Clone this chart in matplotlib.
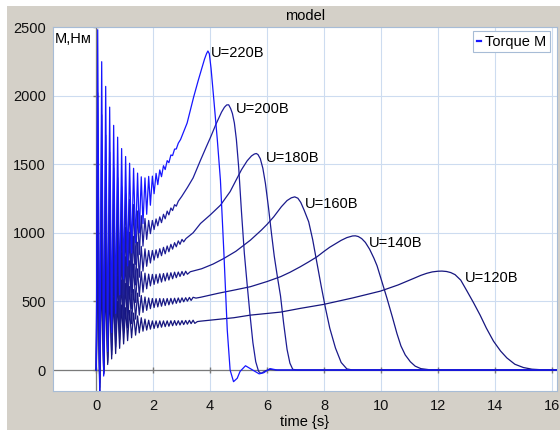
import matplotlib.pyplot as plt
from matplotlib.patches import Rectangle

plt.rcParams['font.family'] = ['Liberation Sans', 'DejaVu Sans']

# instants (s) of the start-up oscillation extrema, shared by every curve
osc_t = [0.05, 0.12, 0.19, 0.26, 0.33, 0.40, 0.47, 0.54, 0.61, 0.68, 0.75, 0.82,
         0.89, 0.96, 1.03, 1.10, 1.17, 1.24, 1.31, 1.38, 1.45, 1.51, 1.58, 1.64,
         1.71, 1.77, 1.84, 1.90, 1.97, 2.03, 2.10, 2.16, 2.23, 2.29, 2.36, 2.42,
         2.49, 2.55, 2.62, 2.68, 2.75, 2.81, 2.88, 2.94, 3.01, 3.07, 3.14, 3.20,
         3.27, 3.33, 3.40, 3.46]

# torque at those extrema (N*m), one list per supply voltage
osc_220 = [2480, -237, 2247, -44, 2067, 135, 1916, 273, 1783, 413, 1697, 548, 1614,
           663, 1556, 759, 1507, 853, 1470, 928, 1435, 1000, 1408, 1067, 1400, 1135,
           1411, 1201, 1413, 1285, 1433, 1351, 1458, 1409, 1489, 1461, 1526, 1511,
           1567, 1563, 1610, 1611, 1653]
osc_200 = [2020, -192, 1860, -32, 1712, 116, 1587, 230, 1473, 338, 1402, 454, 1336,
           548, 1286, 626, 1243, 698, 1206, 770, 1159, 841, 1125, 903, 1104, 952,
           1090, 994, 1090, 1024, 1101, 1051, 1116, 1074, 1135, 1102, 1158, 1131,
           1181, 1162, 1205, 1194, 1230]
osc_180 = [1633, -158, 1504, -28, 1384, 92, 1282, 184, 1190, 275, 1132, 365, 1079,
           441, 1039, 505, 1004, 562, 974, 620, 931, 676, 901, 721, 883, 756, 871,
           780, 871, 801, 876, 818, 884, 833, 894, 847, 904, 862, 916, 881, 928,
           898, 941, 916, 952, 934]
osc_160 = [1290, -126, 1188, -24, 1093, 71, 1013, 144, 940, 217, 895, 289, 855, 351,
           825, 402, 796, 446, 772, 493, 737, 536, 717, 567, 706, 592, 699, 613,
           697, 624, 697, 633, 701, 641, 703, 649, 707, 656, 709, 665, 713, 673,
           714, 682, 718, 689, 720, 698]
osc_140 = [989, -95, 911, -17, 838, 55, 777, 111, 721, 167, 687, 222, 656, 270, 631,
           306, 608, 338, 586, 371, 560, 400, 543, 420, 532, 435, 525, 447, 521,
           455, 520, 460, 521, 465, 520, 470, 521, 475, 522, 481, 523, 486, 525,
           491, 526, 497, 527, 502, 529, 507, 530]
osc_120 = [725, -70, 668, -13, 614, 40, 569, 81, 528, 120, 500, 158, 474, 190, 454,
           214, 434, 235, 415, 254, 394, 271, 381, 283, 371, 291, 363, 298, 358, 303,
           358, 308, 358, 312, 358, 316, 358, 319, 359, 323, 360, 326, 359, 328,
           360, 331, 361, 334, 362, 338, 363, 340]

# smooth part after the oscillations die out
t_220 = [2.96, 3.19, 3.42, 3.58, 3.70, 3.80, 3.87, 3.92, 3.97, 4.03, 4.13, 4.25,
         4.36, 4.48, 4.60, 4.70, 4.82, 4.95, 5.05, 5.24, 5.45, 5.72, 5.88, 6.10,
         6.35, 16.2]
m_220 = [1680, 1800, 1990, 2110, 2195, 2265, 2305, 2325, 2305, 2200, 1966, 1680,
         1383, 860, 291, 0, -85, -60, -10, 31, 5, -28, -20, 10, 0, 0]
t_200 = [3.0, 3.2, 3.4, 3.66, 3.85, 4.02, 4.2, 4.4, 4.5, 4.58, 4.65, 4.72, 4.78,
         4.85, 4.92, 5.0, 5.1, 5.2, 5.3, 5.4, 5.5, 5.6, 5.7, 5.78, 5.95, 6.1, 6.3,
         16.2]
m_200 = [1265, 1330, 1400, 1529, 1620, 1700, 1790, 1880, 1915, 1932, 1933, 1905,
         1870, 1800, 1680, 1480, 1150, 850, 620, 400, 200, 60, -10, -25, -5, 5, 0, 0]
t_180 = [3.15, 3.4, 3.66, 4.0, 4.36, 4.7, 4.9, 5.1, 5.3, 5.45, 5.55, 5.62, 5.68,
         5.76, 5.85, 5.94, 6.05, 6.15, 6.25, 6.36, 6.47, 6.58, 6.7, 6.8, 6.9, 7.05,
         16.2]
m_180 = [958, 1000, 1068, 1130, 1201, 1300, 1380, 1460, 1525, 1560, 1574, 1578,
         1570, 1540, 1470, 1360, 1180, 1000, 830, 680, 540, 340, 150, 50, 5, 0, 0]
t_160 = [3.3, 3.7, 4.1, 4.48, 4.9, 5.41, 5.8, 6.0, 6.23, 6.5, 6.7, 6.85, 6.97,
         7.08, 7.18, 7.3, 7.46, 7.6, 7.75, 7.9, 8.05, 8.2, 8.4, 8.6, 8.8, 9.0, 16.2]
m_160 = [716, 738, 772, 813, 865, 946, 1020, 1062, 1116, 1190, 1235, 1255, 1262,
         1252, 1222, 1165, 1080, 950, 780, 610, 450, 305, 160, 55, 8, 0, 0]
t_140 = [3.5, 3.66, 4.3, 4.83, 5.41, 6.0, 6.47, 6.8, 7.16, 7.45, 7.75, 8.0, 8.2,
         8.4, 8.6, 8.8, 9.0, 9.1, 9.2, 9.32, 9.45, 9.6, 9.75, 9.86, 10.0, 10.21,
         10.4, 10.56, 10.7, 10.85, 11.03, 11.2, 11.4, 11.7, 12.0, 16.2]
m_140 = [524, 530, 560, 582, 607, 645, 680, 712, 752, 787, 825, 865, 895, 920, 945,
         965, 977, 978, 973, 958, 930, 880, 815, 760, 665, 522, 385, 265, 175, 110,
         60, 28, 10, 2, 0, 0]
t_120 = [3.55, 3.66, 4.83, 5.41, 6.47, 7.16, 7.98, 9.0, 9.98, 10.6, 11.14, 11.4,
         11.61, 11.8, 12.0, 12.14, 12.3, 12.45, 12.6, 12.8, 13.02, 13.25, 13.48,
         13.7, 13.95, 14.2, 14.42, 14.7, 15.0, 15.3, 15.7, 16.2]
m_120 = [353, 356, 381, 400, 422, 449, 478, 525, 575, 620, 667, 690, 705, 715, 720,
         721, 718, 710, 695, 655, 575, 490, 400, 305, 210, 138, 88, 42, 18, 6, 1, 0]

curve_labels = ['U=120В', 'U=140В', 'U=160В', 'U=180В', 'U=200В', 'U=220В']
label_t = [12.96, 9.57, 7.34, 5.96, 4.89, 4.03]
label_m = [673, 928, 1208, 1543, 1900, 2311]

x_ticks = [0, 2, 4, 6, 8, 10, 12, 14, 16]
y_ticks = [0, 500, 1000, 1500, 2000, 2500]

curves = [
    (osc_120, t_120, m_120, '#16167e'),
    (osc_140, t_140, m_140, '#181884'),
    (osc_160, t_160, m_160, '#1a1a8a'),
    (osc_180, t_180, m_180, '#1c1c92'),
    (osc_200, t_200, m_200, '#1e1e9c'),
    (osc_220, t_220, m_220, '#1616ff'),
]

W, H = 560, 430
fig = plt.figure(figsize=(W / 100, H / 100), dpi=100, facecolor='#d4d0c8')
fig.add_artist(Rectangle((0, 1 - 6 / H), 1, 6 / H, transform=fig.transFigure,
                         facecolor='white', edgecolor='none', zorder=0))
fig.add_artist(Rectangle((0, 0), 7 / W, 1, transform=fig.transFigure,
                         facecolor='white', edgecolor='none', zorder=0))

ax = fig.add_axes([53 / W, 39 / H, 504 / W, 364 / H])
ax.set_facecolor('white')

lines = []
for osc, ts, ms, col in curves:
    tt = [0.0] + osc_t[:len(osc)] + ts
    mm = [0.0] + osc + ms
    ln, = ax.plot(tt, mm, color=col, lw=0.9, zorder=3)
    lines.append(ln)

for lab, lt, lm in zip(curve_labels, label_t, label_m):
    ax.text(lt, lm, lab, ha='left', va='center', fontsize=10.5, zorder=4)

ax.set_xlim(-1.52, 16.18)
ax.set_ylim(-153, 2500)
ax.set_xticks(x_ticks)
ax.set_yticks(y_ticks)
ax.grid(color='#cddcf0', lw=0.8)
ax.set_axisbelow(True)
ax.axhline(0, color='#7a7a7a', lw=0.9, zorder=2)
ax.axvline(0, color='#7a7a7a', lw=0.9, zorder=2)
ax.plot(x_ticks, [0] * len(x_ticks), ls='none', marker='|', ms=4,
        color='#7a7a7a', zorder=2)
ax.plot([0] * len(y_ticks), y_ticks, ls='none', marker='_', ms=4,
        color='#7a7a7a', zorder=2)

for sp in ax.spines.values():
    sp.set_color('#a7bcd6')
    sp.set_linewidth(0.8)
ax.tick_params(length=0, labelsize=10.5, colors='#111111')
ax.tick_params(axis='x', pad=6)
ax.tick_params(axis='y', pad=5)
ax.set_xlabel('time {s}', fontsize=10.5, labelpad=1.5)

ax.text(0.004, 0.967, 'М,Нм', transform=ax.transAxes, ha='left', va='center',
        fontsize=10.5, zorder=4)

leg = ax.legend([lines[-1]], ['Torque M'], loc='upper right',
                bbox_to_anchor=((550 - 53) / 504, 1 - 4 / 364), borderaxespad=0,
                handlelength=0.3, handletextpad=0.25, borderpad=0.25,
                fancybox=False, edgecolor='#a7bcd6', framealpha=1, fontsize=10.5)
leg.get_frame().set_linewidth(0.8)
for hl in leg.get_lines():
    hl.set_linewidth(1.6)

fig.text(305 / W, 1 - 16 / H, 'model', ha='center', va='center', fontsize=10.5)

fig.savefig('out.png', dpi=100, facecolor=fig.get_facecolor())
